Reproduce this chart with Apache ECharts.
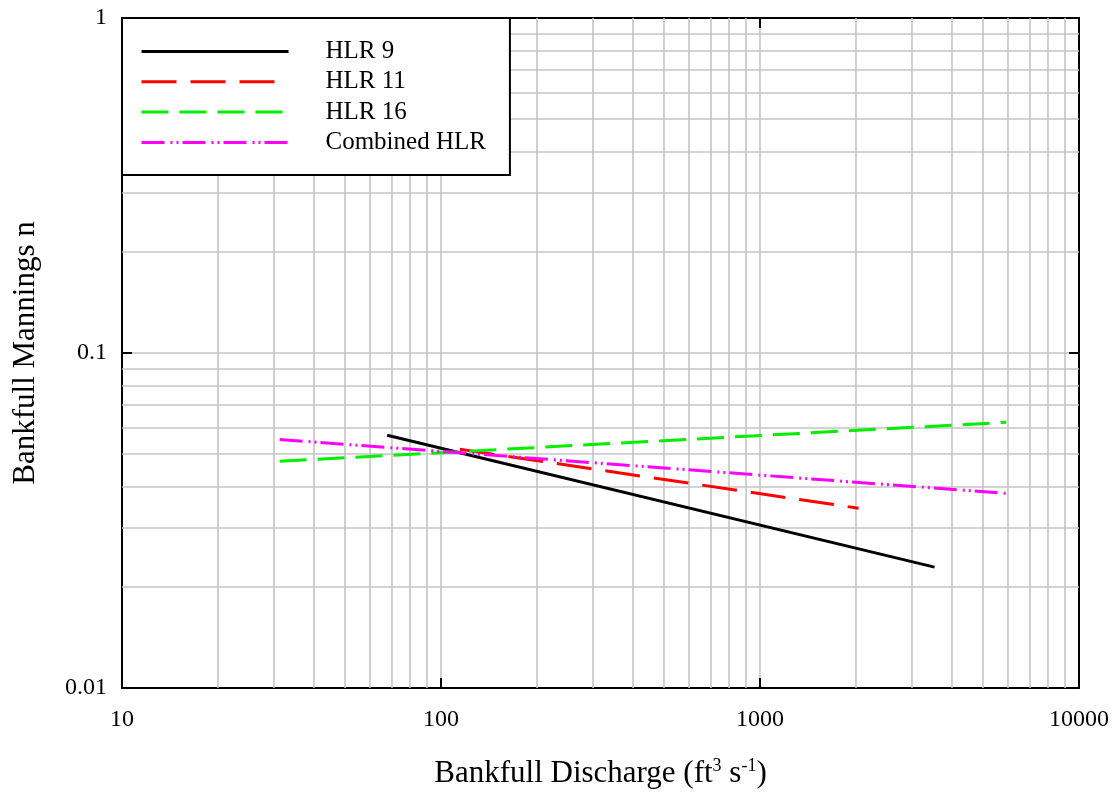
<!DOCTYPE html>
<html>
<head>
<meta charset="utf-8">
<script src="https://cdn.jsdelivr.net/npm/echarts@6/dist/echarts.min.js"></script>
<style>html,body{margin:0;padding:0;background:#fff}#c{width:1116px;height:797px}</style>
</head>
<body>
<div id="c"></div>
<script>
// Data (log-log straight lines)
var hlr9X = [67.8, 3524];
var hlr9Y = [0.0568, 0.02295];
var hlr11X = [114.6, 2037];
var hlr11Y = [0.0516, 0.0344];
var hlr16X = [31.2, 5914];
var hlr16Y = [0.0475, 0.0621];
var combX = [31.2, 5914];
var combY = [0.0552, 0.0381];
var seriesNames = ['HLR 9', 'HLR 11', 'HLR 16', 'Combined HLR'];
var minorX = [20,30,40,50,60,70,80,90,200,300,400,500,600,700,800,900,2000,3000,4000,5000,6000,7000,8000,9000];
var minorY = [0.02,0.03,0.04,0.05,0.06,0.07,0.08,0.09,0.2,0.3,0.4,0.5,0.6,0.7,0.8,0.9];

function pairs(xs, ys){ return xs.map(function(x,i){ return [x, ys[i]]; }); }

var FONT = 'Liberation Serif';
var gridColor = '#c4c4c4';
var chart = echarts.init(document.getElementById('c'));

var tickStyle = {show:true, inside:true, length:10, lineStyle:{color:'#000', width:2}};
var axisLineStyle = {show:true, lineStyle:{color:'#000', width:2}};

var option = {
  animation: false,
  backgroundColor: '#fff',
  grid: {left:122, top:18, right:37, bottom:109, containLabel:false},
  xAxis: [{
    type:'log', logBase:10, min:10, max:10000,
    axisLine: axisLineStyle, axisTick: tickStyle,
    axisLabel: {color:'#000', fontFamily:FONT, fontSize:24, margin:20,
      formatter: function(v){ return String(+(+v).toPrecision(3)); }},
    splitLine: {show:true, lineStyle:{color:gridColor, width:1.6}},
    name: 'Bankfull Discharge (ft{sup|3} s{sup|-1})',
    nameLocation:'middle', nameGap:69,
    nameTextStyle: {color:'#000', fontFamily:FONT, fontSize:31,
      rich:{sup:{fontFamily:FONT, fontSize:18, color:'#000', padding:[0,0,15,0]}}}
  },{
    type:'log', logBase:10, min:10, max:10000, position:'top',
    axisLine: axisLineStyle, axisTick: tickStyle,
    axisLabel:{show:false}, splitLine:{show:false}
  }],
  yAxis: [{
    type:'log', logBase:10, min:0.01, max:1,
    axisLine: axisLineStyle, axisTick: tickStyle,
    axisLabel: {color:'#000', fontFamily:FONT, fontSize:24, margin:15,
      formatter: function(v){ return String(+(+v).toPrecision(3)); }},
    splitLine: {show:true, lineStyle:{color:gridColor, width:1.6}},
    name: 'Bankfull Mannings n', nameLocation:'middle', nameGap:81,
    nameTextStyle: {color:'#000', fontFamily:FONT, fontSize:31}
  },{
    type:'log', logBase:10, min:0.01, max:1, position:'right',
    axisLine: axisLineStyle, axisTick: tickStyle,
    axisLabel:{show:false}, splitLine:{show:false}
  }],
  legend: {
    data: seriesNames,
    orient:'vertical', left:122, top:18,
    backgroundColor:'#fff', borderColor:'#000', borderWidth:2,
    padding:[21, 24, 20, 18],
    itemWidth:147, itemHeight:24, itemGap:5.3,
    itemStyle:{opacity:0},
    lineStyle:{width:3},
    textStyle:{color:'#000', fontFamily:FONT, fontSize:25, padding:[0,0,0,32]},
    z: 10
  },
  series: [
    {
      name:'minor', type:'line', data:[], z:1, silent:true,
      markLine:{
        silent:true, symbol:['none','none'], label:{show:false}, animation:false,
        lineStyle:{color:gridColor, width:1.6, type:'solid'},
        emphasis:{disabled:true},
        data: minorX.map(function(v){return {xAxis:v};}).concat(minorY.map(function(v){return {yAxis:v};}))
      }
    },
    {name:seriesNames[0], type:'line', data:pairs(hlr9X,hlr9Y), showSymbol:false, symbol:'none', z:5,
      lineStyle:{color:'#000', width:3, type:'solid'}, itemStyle:{color:'#000'}},
    {name:seriesNames[1], type:'line', data:pairs(hlr11X,hlr11Y), showSymbol:false, symbol:'none', z:5,
      lineStyle:{color:'#ff0000', width:3, type:[35,14]}, itemStyle:{color:'#ff0000'}},
    {name:seriesNames[2], type:'line', data:pairs(hlr16X,hlr16Y), showSymbol:false, symbol:'none', z:5,
      lineStyle:{color:'#00ee00', width:3, type:[27,11]}, itemStyle:{color:'#00ee00'}},
    {name:seriesNames[3], type:'line', data:pairs(combX,combY), showSymbol:false, symbol:'none', z:5,
      lineStyle:{color:'#ff00ff', width:3, type:[23,6,2,4,2,4]}, itemStyle:{color:'#ff00ff'}}
  ]
};
chart.setOption(option);
</script>
</body>
</html>
